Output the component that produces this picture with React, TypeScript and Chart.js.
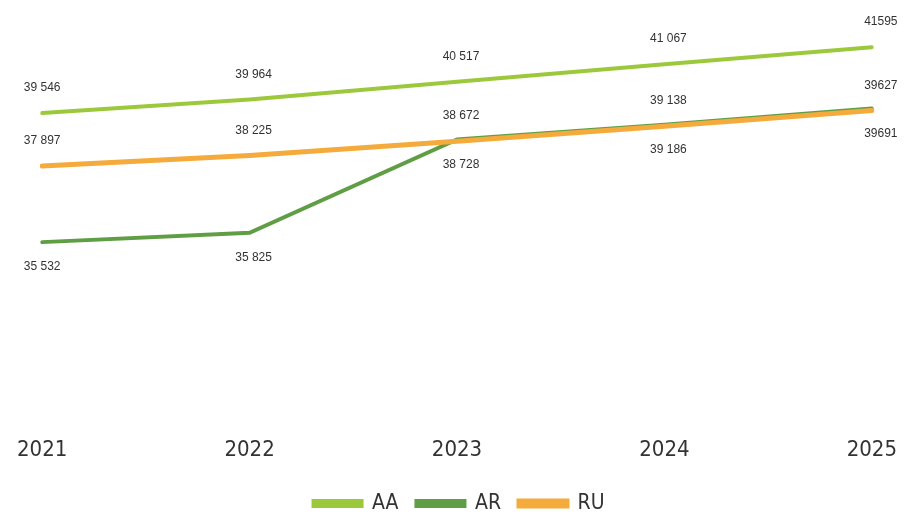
import React, { useEffect, useRef } from "react";
import { Chart, registerables } from "chart.js";

Chart.register(...registerables);

const years = ["2021", "2022", "2023", "2024", "2025"];
const aaValues = [39546, 39964, 40517, 41067, 41595];
const arValues = [35532, 35825, 38728, 39186, 39691];
const ruValues = [37897, 38225, 38672, 39138, 39627];
const seriesNames = ["AA", "AR", "RU"];
const seriesColors = ["#9cc93c", "#5f9e45", "#f5aa3c"];
// label placement per series: -1 above, 1 below
const labelSide = [-1, 1, -1];

const FONT = "'DejaVu Sans Condensed', 'Liberation Sans Narrow', sans-serif";

function fmt(v: number, idx: number) {
  const s = String(v);
  if (idx === 4) return s;
  return s.slice(0, s.length - 3) + " " + s.slice(s.length - 3);
}

const valueLabels = {
  id: "valueLabels",
  afterDatasetsDraw(chart: any) {
    const ctx = chart.ctx;
    ctx.save();
    ctx.font = "12px 'Liberation Sans', Arial, sans-serif";
    ctx.fillStyle = "#333333";
    ctx.textAlign = "center";
    ctx.textBaseline = "middle";
    chart.data.datasets.forEach((ds: any, di: number) => {
      const meta = chart.getDatasetMeta(di);
      const last = meta.data.length - 1;
      meta.data.forEach((pt: any, i: number) => {
        const v = ds.data[i] as number;
        const dx = i === last ? 9 : i === 0 ? 0 : 4;
        ctx.fillText(fmt(v, i), pt.x + dx, pt.y + labelSide[di] * 25);
      });
    });
    ctx.restore();
  },
};

export default function App() {
  const ref = useRef<HTMLCanvasElement | null>(null);
  useEffect(() => {
    if (!ref.current) return;
    const data = [aaValues, arValues, ruValues];
    const chart = new Chart(ref.current, {
      type: "line",
      data: {
        labels: years,
        datasets: seriesNames.map((n, i) => ({
          label: n,
          data: data[i],
          borderColor: seriesColors[i],
          backgroundColor: seriesColors[i],
          borderWidth: i === 2 ? 5 : 4,
          pointRadius: 0,
          tension: 0,
          borderCapStyle: "round" as const,
          order: 3 - i,
        })),
      },
      options: {
        animation: false,
        responsive: false,
        maintainAspectRatio: false,
        layout: { padding: { left: 35, right: 31, top: 2, bottom: 0 } },
        plugins: {
          legend: {
            position: "bottom",
            labels: {
              boxWidth: 48,
              boxHeight: 5,
              padding: 18,
              color: "#333333",
              font: { family: FONT, size: 21 },
              sort: (a: any, b: any) => a.datasetIndex - b.datasetIndex,
            },
          },
          tooltip: { enabled: false },
        },
        scales: {
          x: {
            offset: false,
            grid: { display: false, drawTicks: false },
            border: { display: false },
            ticks: {
              padding: 17,
              color: "#333333",
              font: { family: FONT, size: 22 },
              maxRotation: 0,
            },
            afterFit: (scale: any) => {
              scale.height = 55;
            },
          },
          y: {
            display: false,
            min: 30000,
            max: 43000,
          },
        },
      },
      plugins: [valueLabels],
    });
    return () => chart.destroy();
  }, []);
  return (
    <div style={{ position: "fixed", left: 0, top: 0, width: 914, height: 512, overflow: "hidden", background: "#ffffff" }}>
      <canvas ref={ref} width={914} height={524} style={{ width: 914, height: 524, display: "block" }} />
    </div>
  );
}
